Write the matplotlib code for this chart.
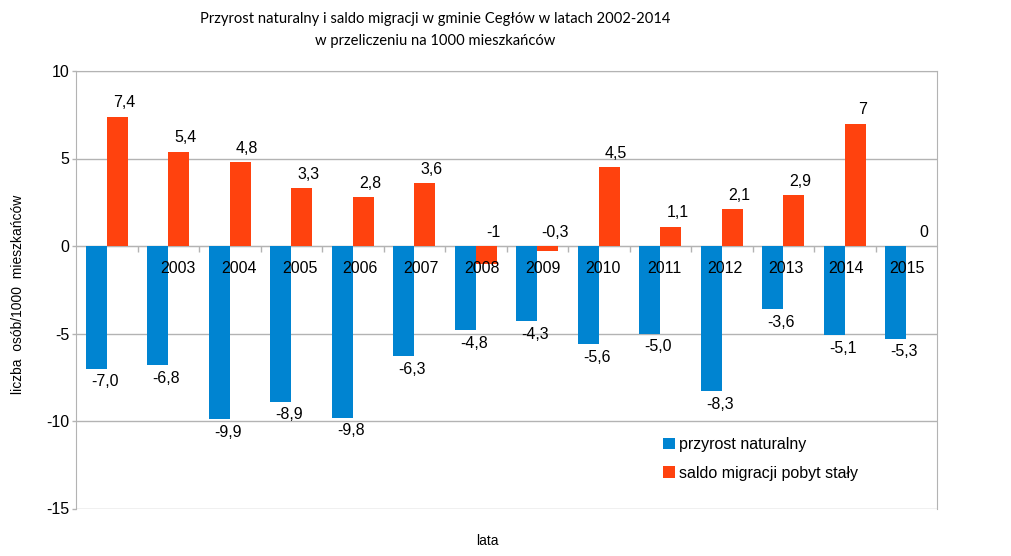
import matplotlib
matplotlib.use("Agg")
import matplotlib.pyplot as plt
from matplotlib.patches import Patch

years = [2002, 2003, 2004, 2005, 2006, 2007, 2008, 2009, 2010, 2011, 2012, 2013, 2014, 2015]
category_labels = ["", "2003", "2004", "2005", "2006", "2007", "2008", "2009",
                   "2010", "2011", "2012", "2013", "2014", "2015"]
przyrost = [-7.0, -6.8, -9.9, -8.9, -9.8, -6.3, -4.8, -4.3, -5.6, -5.0, -8.3, -3.6, -5.1, -5.3]
saldo = [7.4, 5.4, 4.8, 3.3, 2.8, 3.6, -1, -0.3, 4.5, 1.1, 2.1, 2.9, 7, 0]
przyrost_labels = ["-7,0", "-6,8", "-9,9", "-8,9", "-9,8", "-6,3", "-4,8", "-4,3",
                   "-5,6", "-5,0", "-8,3", "-3,6", "-5,1", "-5,3"]
saldo_labels = ["7,4", "5,4", "4,8", "3,3", "2,8", "3,6", "-1", "-0,3",
                "4,5", "1,1", "2,1", "2,9", "7", "0"]
yticks = [-15, -10, -5, 0, 5, 10]
ytick_labels = ["-15", "-10", "-5", "0", "5", "10"]
series_names = ["przyrost naturalny", "saldo migracji pobyt stały"]

BLUE = "#0084d1"
RED = "#ff420e"
GRID = "#b3b3b3"

plt.rcParams['font.family'] = ['Liberation Sans', 'DejaVu Sans']

W, H = 1011, 556
fig = plt.figure(figsize=(W / 100, H / 100), dpi=100)
ax = fig.add_axes([76 / W, 1 - 508.5 / H, (937 - 76) / W, (508.5 - 71) / H])

n = len(years)
xs = list(range(n))
bw = 0.34
ax.bar([x - bw / 2 for x in xs], przyrost, width=bw, color=BLUE, zorder=3)
ax.bar([x + bw / 2 for x in xs], saldo, width=bw, color=RED, zorder=3)

ax.set_xlim(-0.5, n - 0.5)
ax.set_ylim(-15, 10)
ax.set_yticks(yticks)
ax.set_yticklabels(ytick_labels, fontsize=11.5)
ax.yaxis.grid(True, color=GRID, linewidth=1)
ax.set_axisbelow(True)

# x axis at zero with ticks at category boundaries
ax.spines['bottom'].set_position(('data', 0))
ax.spines['bottom'].set_color(GRID)
ax.spines['bottom'].set_zorder(2)
ax.set_xticks([i + 0.5 for i in range(n - 1)])
ax.set_xticklabels([])
ax.tick_params(axis='x', direction='out', length=4, color=GRID, width=1)
ax.tick_params(axis='y', direction='out', length=3, color=GRID, width=1, pad=2)
for s in ['left', 'right', 'top']:
    ax.spines[s].set_color(GRID)

# category labels
for i, lab in enumerate(category_labels):
    if lab:
        ax.annotate(lab, xy=(i * 0.988 + 0.17, 0), xytext=(0, -16),
                    textcoords='offset points', ha='center', va='center',
                    fontsize=11.5, zorder=5)

# data labels
for i in xs:
    ax.annotate(przyrost_labels[i], xy=(i - bw / 2, przyrost[i]), xytext=(6, -9.5),
                textcoords='offset points', ha='center', va='center', fontsize=11.5)
    ax.annotate(saldo_labels[i], xy=(i + bw / 2, max(saldo[i], 0)), xytext=(5, 10),
                textcoords='offset points', ha='center', va='center', fontsize=11.5)

fig.text(18 / W, 1 - 294 / H, "liczba  osób/1000  mieszkańców", rotation=90,
         ha='center', va='center', fontsize=10)

fig.text(487 / W, 1 - 541 / H, "lata", ha='center', va='center', fontsize=10)

fig.text(435 / W, 1 - 18.5 / H, "Przyrost naturalny i saldo migracji w gminie Cegłów w latach 2002-2014",
         ha='center', va='center', fontsize=10.6, family=['Lato', 'DejaVu Sans'])
fig.text(435 / W, 1 - 40.5 / H, "w przeliczeniu na 1000 mieszkańców",
         ha='center', va='center', fontsize=10.6, family=['Lato', 'DejaVu Sans'])

handles = [Patch(facecolor=BLUE, edgecolor='none'), Patch(facecolor=RED, edgecolor='none')]
fig.legend(handles, series_names, loc='upper left',
           bbox_to_anchor=(663 / W, 1 - 437 / H), frameon=False, fontsize=11.5,
           handlelength=0.75, handleheight=0.75, handletextpad=0.25,
           labelspacing=0.85, borderpad=0, borderaxespad=0)

fig.savefig("out.png", dpi=100)
